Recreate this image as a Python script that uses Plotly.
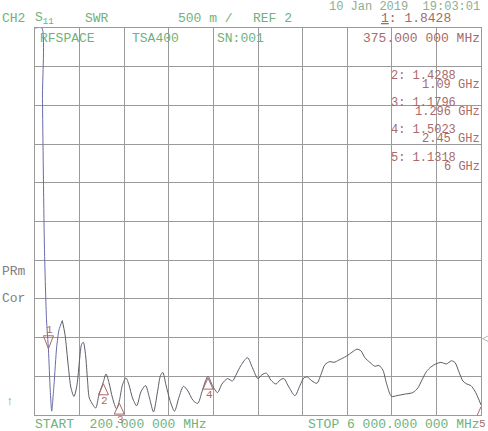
import plotly.graph_objects as go

# ---- data ----
freq_mhz = [200, 290, 297, 323, 350, 375, 398, 417, 447, 482, 512, 555, 590, 633, 668, 707,
            746, 779, 805, 828, 857, 883, 906, 948, 989, 1032, 1090, 1123, 1162, 1208, 1260,
            1296, 1338, 1383, 1422, 1468, 1522, 1578, 1637, 1689, 1741, 1793, 1832, 1861,
            1903, 1955, 2014, 2072, 2131, 2189, 2254, 2316, 2371, 2417, 2450, 2508, 2573,
            2631, 2703, 2768, 2820, 2878, 2963, 3028, 3099, 3151, 3210, 3268, 3333, 3385,
            3437, 3502, 3580, 3645, 3697, 3743, 3801, 3866, 3918, 3970, 4035, 4087, 4152,
            4250, 4321, 4386, 4438, 4490, 4555, 4620, 4672, 4724, 4776, 4837, 4906, 5010,
            5114, 5179, 5231, 5290, 5348, 5413, 5478, 5550, 5615, 5660, 5712, 5764, 5816,
            5868, 5920, 5959, 6000]
swr = [6.0, 6.0, 5.09, 3.14, 2.23, 1.84, 1.32, 1.05, 1.39, 1.88, 2.10, 2.22, 2.04, 1.63, 1.35, 1.24,
       1.39, 1.71, 1.91, 1.94, 1.78, 1.45, 1.22, 1.14, 1.09, 1.26, 1.43, 1.53, 1.42, 1.22, 1.08,
       1.18, 1.39, 1.48, 1.39, 1.22, 1.12, 1.30, 1.38, 1.22, 1.04, 1.30, 1.51, 1.55,
       1.39, 1.19, 1.05, 1.23, 1.37, 1.31, 1.19, 1.15, 1.30, 1.44, 1.50, 1.38, 1.29,
       1.40, 1.47, 1.44, 1.53, 1.64, 1.74, 1.61, 1.47, 1.52, 1.54, 1.45, 1.40, 1.45,
       1.47, 1.36, 1.25, 1.38, 1.48, 1.49, 1.44, 1.41, 1.52, 1.65, 1.69, 1.68, 1.71,
       1.76, 1.81, 1.85, 1.83, 1.74, 1.68, 1.63, 1.64, 1.58, 1.39, 1.24, 1.25, 1.27,
       1.29, 1.35, 1.45, 1.56, 1.62, 1.66, 1.68, 1.66, 1.70, 1.68, 1.56, 1.44, 1.40,
       1.38, 1.31, 1.23, 1.13]

marker_ids = ["1", "2", "3", "4", "5"]
marker_freq = [375, 1090, 1296, 2450, 6000]
marker_swr = [1.8428, 1.4288, 1.1796, 1.5023, 1.1318]
marker_freq_text = ["375.000 000 MHz", "1.09 GHz", "1.296 GHz", "2.45 GHz", "6 GHz"]

start_mhz, stop_mhz = 200, 6000
ref_value, scale_per_div = 2.0, 0.5

# ---- styling ----
W, H = 488, 431
L, R, T, B = 35, 481, 28, 415
GREEN = "#6fb27a"
DATE = "#8fae92"
RED = "#a86a6a"
GRAY = "#808080"
TRACE = "#5c5c68"
BLUE = "#6a6aaa"
FONT = "Liberation Mono"


def px(x):
    return (x - L) / (R - L)


def py(y):
    return (B - y) / (B - T)


n_blue = 12
fig = go.Figure()
fig.add_trace(go.Scatter(x=freq_mhz[n_blue - 1:], y=swr[n_blue - 1:], mode="lines",
                         line=dict(color=TRACE, width=1, shape="spline", smoothing=0.8),
                         hoverinfo="skip", showlegend=False))
fig.add_trace(go.Scatter(x=freq_mhz[:n_blue], y=swr[:n_blue], mode="lines",
                         line=dict(color=BLUE, width=1, shape="spline", smoothing=0.6),
                         hoverinfo="skip", showlegend=False))

ann = []


def txt(x, y, s, color, size=13, anchor="left"):
    ann.append(dict(x=px(x), y=py(y), xref="paper", yref="paper", text=s, showarrow=False,
                    xanchor=anchor, yanchor="middle", borderpad=0,
                    font=dict(family=FONT, size=size, color=color)))


# header
txt(481, 7, "10 Jan 2019  19:03:01", DATE, 12, "right")
txt(1, 18, "CH2", GREEN)
txt(34, 18, "S<sub>11</sub>", GREEN)
txt(84, 18, "SWR", GREEN)
txt(177, 18, "500 m /", GREEN)
txt(252, 18, "REF 2", GREEN)
txt(380, 19, "<u>1</u>: 1.8428", RED)
txt(39, 38, "RFSPACE", GREEN)
txt(131, 38, "TSA400", GREEN)
txt(216, 38, "SN:001", GREEN)
txt(481, 38, marker_freq_text[0], RED, 13, "right")

# marker table
rows_y = [76, 103, 130, 158]
for i in range(1, 5):
    txt(390, rows_y[i - 1], f"{marker_ids[i]}: {marker_swr[i]:.4f}", RED, 12)
    txt(481, rows_y[i - 1] + 9, marker_freq_text[i], RED, 12, "right")

# left side labels
txt(1, 271, "PRm", GRAY)
txt(1, 298, "Cor", GRAY)
txt(5, 401, "↑", GREEN)

# bottom
txt(34, 425, f"START  {start_mhz:.3f} 000 MHz", GREEN)
txt(481, 425, "STOP 6 000.000 000 MHz", GREEN, 13, "right")

# reference position indicator on the right
ann.append(dict(x=1, y=ref_value, xref="paper", yref="y", text="◁", showarrow=False,
                xanchor="left", yanchor="middle", borderpad=0,
                font=dict(family="DejaVu Sans", size=9, color=GRAY)))

# marker symbols
shapes = []
for i, (f, v) in enumerate(zip(marker_freq, marker_swr)):
    if i == 0:
        path = "M0,1 L-5,14 L5,14 Z"
        lab_shift = 20
    else:
        path = "M0,-2 L-5,-13 L5,-13 Z"
        lab_shift = -19
    shapes.append(dict(type="path", xref="x", yref="y", xsizemode="pixel", ysizemode="pixel",
                       xanchor=f, yanchor=v, path=path, line=dict(color=RED, width=1),
                       fillcolor="rgba(0,0,0,0)", layer="above"))
    ann.append(dict(x=f, y=v, xref="x", yref="y", text=marker_ids[i], showarrow=False,
                    xanchor="center", yanchor="middle", yshift=lab_shift, xshift=1,
                    font=dict(family=FONT, size=11, color=RED)))

axis_common = dict(showgrid=True, gridcolor="#9a9a9a", gridwidth=1, zeroline=False,
                   showticklabels=False, ticks="", showline=True, linecolor="#9a9a9a",
                   linewidth=1, mirror=True, fixedrange=True)

fig.update_layout(
    width=W, height=H,
    margin=dict(l=L, r=W - R, t=T, b=H - B, pad=0),
    paper_bgcolor="white", plot_bgcolor="white",
    xaxis=dict(range=[start_mhz, stop_mhz], tick0=start_mhz, dtick=(stop_mhz - start_mhz) / 10,
               **axis_common),
    yaxis=dict(range=[1.0, 6.0], tick0=1.0, dtick=scale_per_div, **axis_common),
    annotations=ann, shapes=shapes, showlegend=False,
)

fig.write_html("out.html", config={"displayModeBar": False},
               post_script="document.body.style.margin='0';document.body.style.overflow='hidden';")
